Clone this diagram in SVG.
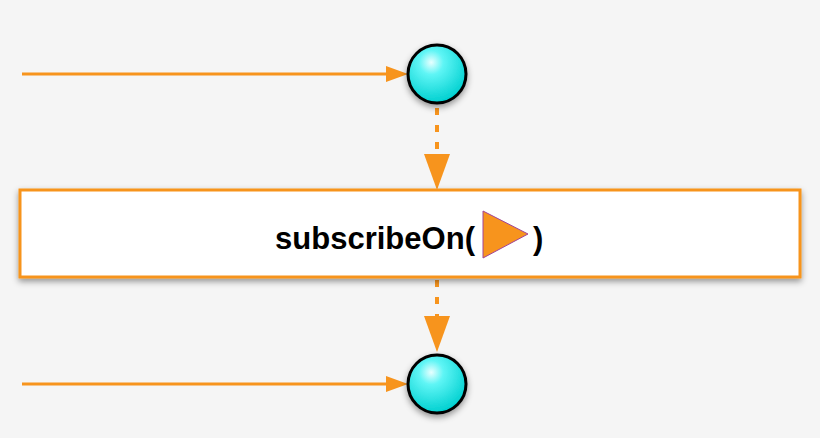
<svg xmlns="http://www.w3.org/2000/svg" width="820" height="438" viewBox="0 0 820 438">
<defs>
<style>
.ln{stroke:#f7941d;stroke-width:3;fill:none}
.dot{stroke:#f7941d;stroke-width:4;fill:none;stroke-dasharray:7 10}
.ah{fill:#f7941d}
.c{fill:url(#g);stroke:#000;stroke-width:3}
.t{font-family:"Liberation Sans",Arial,sans-serif;font-weight:bold;font-size:31px}
</style>
<radialGradient id="g" cx="0.4" cy="0.3" r="0.7">
<stop offset="0" stop-color="#e8ffff"/><stop offset="0.3" stop-color="#5ff5f5"/><stop offset="1" stop-color="#00d0d0"/>
</radialGradient>
<filter id="s" x="-30%" y="-30%" width="160%" height="160%"><feDropShadow dx="0" dy="3" stdDeviation="3" flood-opacity="0.4"/></filter>
</defs>
<rect width="820" height="438" fill="#f5f5f5"/>
<g id="connectors">
<line class="ln" x1="22" y1="74" x2="390" y2="74"/>
<polygon class="ah" points="386,66 408,74 386,82"/>
<line class="ln" x1="22" y1="384" x2="390" y2="384"/>
<polygon class="ah" points="386,376 408,384 386,392"/>
<line class="dot" x1="437" y1="108" x2="437" y2="156"/>
<polygon class="ah" points="424,154 450,154 437,190"/>
<line class="dot" x1="437" y1="280" x2="437" y2="318"/>
<polygon class="ah" points="424,316 450,316 437,352"/>
</g>
<g id="top"><circle class="c" cx="437" cy="74" r="29" filter="url(#s)"/></g>
<g id="bottom"><circle class="c" cx="437" cy="384" r="29" filter="url(#s)"/></g>
<g id="op">
<rect x="20" y="190" width="780" height="87" fill="#fff" stroke="#f7941d" stroke-width="3" filter="url(#s)"/>
<text class="t" x="275" y="249" textLength="200" lengthAdjust="spacingAndGlyphs">subscribeOn(</text>
<polygon points="483,211 528,234 483,258" fill="#f7941d" stroke="#a0449a" stroke-width="1"/>
<text class="t" x="533" y="249">)</text>
</g>
</svg>
